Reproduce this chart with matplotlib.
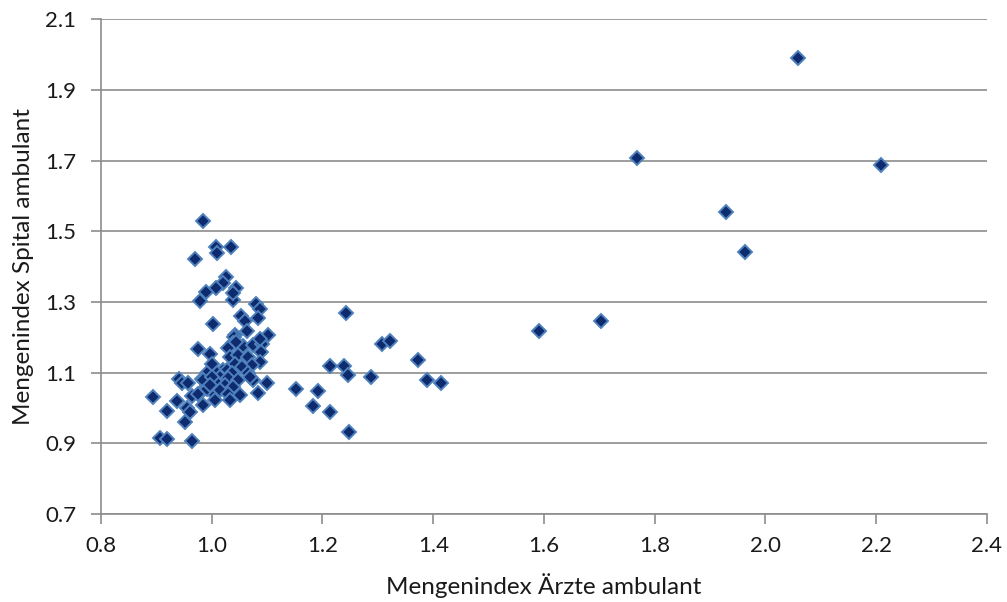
import numpy as np
import matplotlib.pyplot as plt

# Mengenindex Ärzte ambulant (x) / Spital ambulant (y)
x_aerzte = [
    0.985, 1.008, 1.010, 1.035, 0.970, 1.025, 1.020, 1.007, 1.043, 1.039,
    1.039, 0.989, 0.979, 1.080, 1.087, 1.084, 1.053, 1.060, 1.003, 1.064,
    1.042, 1.041, 1.102, 1.039, 1.057, 1.074, 1.091, 1.087, 1.089, 0.976,
    0.997, 1.000, 1.030, 1.033, 1.048, 1.066, 1.088, 1.072, 1.042, 1.054,
    1.021, 1.027, 1.009, 0.991, 1.036, 0.982, 1.015, 1.030, 1.048, 1.066,
    1.075, 1.069, 1.099, 0.994, 1.009, 1.024, 1.039, 0.979, 1.000, 1.015,
    1.029, 1.051, 1.083, 1.006, 1.033, 0.985, 0.941, 0.946, 0.957, 0.894,
    0.938, 0.964, 0.920, 0.955, 0.961, 0.952, 0.907, 0.920, 0.965, 1.044,
    0.985, 1.000, 0.976, 0.991, 0.997,
    2.059, 1.768, 2.209, 1.929, 1.963, 1.591, 1.703, 1.242, 1.307, 1.322,
    1.214, 1.239, 1.246, 1.288, 1.152, 1.192, 1.183, 1.214, 1.248, 1.372,
    1.389, 1.414,
]
y_spital = [
    1.528, 1.456, 1.440, 1.457, 1.423, 1.370, 1.353, 1.341, 1.341, 1.305,
    1.326, 1.327, 1.303, 1.295, 1.280, 1.254, 1.260, 1.247, 1.237, 1.218,
    1.206, 1.201, 1.206, 1.183, 1.175, 1.179, 1.181, 1.194, 1.158, 1.168,
    1.152, 1.126, 1.169, 1.145, 1.150, 1.145, 1.130, 1.123, 1.126, 1.117,
    1.107, 1.109, 1.098, 1.100, 1.098, 1.081, 1.088, 1.084, 1.079, 1.098,
    1.079, 1.088, 1.071, 1.065, 1.070, 1.065, 1.060, 1.043, 1.046, 1.051,
    1.039, 1.037, 1.043, 1.022, 1.022, 1.008, 1.081, 1.070, 1.071, 1.030,
    1.020, 1.034, 0.992, 0.999, 0.989, 0.961, 0.916, 0.913, 0.907, 1.187,
    1.079, 1.088, 1.041, 1.055, 1.065,
    1.990, 1.707, 1.687, 1.554, 1.441, 1.218, 1.246, 1.268, 1.181, 1.189,
    1.119, 1.119, 1.093, 1.087, 1.054, 1.048, 1.005, 0.988, 0.932, 1.136,
    1.079, 1.070,
]

x_ticks = [0.8, 1.0, 1.2, 1.4, 1.6, 1.8, 2.0, 2.2, 2.4]
y_ticks = [0.7, 0.9, 1.1, 1.3, 1.5, 1.7, 1.9, 2.1]

plt.rcParams['font.family'] = ['Lato', 'DejaVu Sans']

fig = plt.figure(figsize=(10.07, 6.02), dpi=100)
ax = fig.add_axes([0.1003, 0.146, 0.8798, 0.822])

ax.plot(x_aerzte, y_spital, linestyle='none', marker='D', markersize=7.2,
        markerfacecolor='#0d2b6e', markeredgecolor='#4f81bd', markeredgewidth=1.4)

ax.set_xlim(0.8, 2.4)
ax.set_ylim(0.7, 2.1)
ax.set_xticks(x_ticks)
ax.set_xticklabels([f'{t:.1f}' for t in x_ticks])
ax.set_yticks(y_ticks)
ax.set_yticklabels([f'{t:.1f}' for t in y_ticks])

ax.grid(axis='y', color='#8c8c8c', linewidth=1.2)
ax.set_axisbelow(True)
for s in ['top', 'right']:
    ax.spines[s].set_visible(False)
for s in ['left', 'bottom']:
    ax.spines[s].set_color('#8c8c8c')
    ax.spines[s].set_linewidth(1.2)
ax.tick_params(direction='out', length=7, color='#8c8c8c', width=1.2,
               labelsize=16, labelcolor='#1a1a1a')
ax.tick_params(axis='x', pad=9)
ax.tick_params(axis='y', pad=11)

ax.set_xlabel('Mengenindex Ärzte ambulant', fontsize=17.5, color='#1a1a1a', labelpad=12)
ax.set_ylabel('Mengenindex Spital ambulant', fontsize=17.5, color='#1a1a1a', labelpad=8)

fig.savefig('out.png', dpi=100)
